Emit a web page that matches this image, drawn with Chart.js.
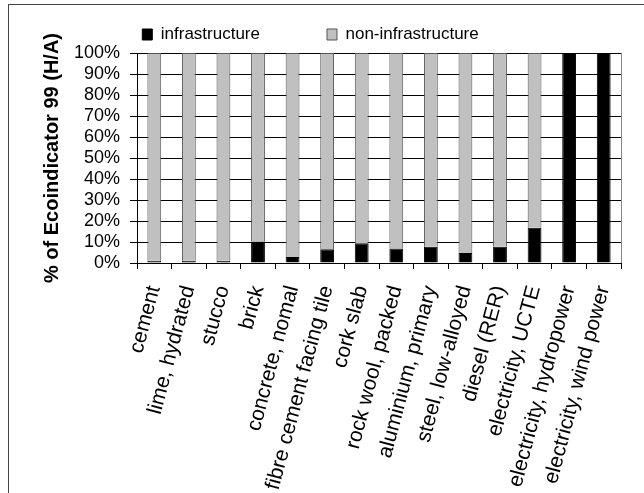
<!DOCTYPE html>
<html>
<head>
<meta charset="utf-8">
<script src="https://cdn.jsdelivr.net/npm/chart.js@4"></script>
<style>
  html, body { margin: 0; padding: 0; background: #fff; }
  #wrap { position: relative; width: 644px; height: 493px; overflow: hidden; }
  #frame { position: absolute; left: 8px; top: 4px; width: 700px; height: 600px; border: 1px solid #444; box-sizing: border-box; pointer-events: none; }
  canvas { position: absolute; left: 0; top: 0; }
</style>
</head>
<body>
<div id="wrap">
  <canvas id="c" width="644" height="493"></canvas>
  <div id="frame"></div>
</div>
<script>
const categories = ['cement', 'lime, hydrated', 'stucco', 'brick', 'concrete, nomal', 'fibre cement facing tile', 'cork slab', 'rock wool, packed', 'aluminium, primary', 'steel, low-alloyed', 'diesel (RER)', 'electricity, UCTE', 'electricity, hydropower', 'electricity, wind power'];
const infrastructure = [1.1, 1.1, 1.1, 10.2, 2.9, 6.6, 9.4, 6.9, 7.7, 4.8, 7.7, 16.8, 100, 100];
const nonInfrastructure = [98.9, 98.9, 98.9, 89.8, 97.1, 93.4, 90.6, 93.1, 92.3, 95.2, 92.3, 83.2, 0, 0];
const yTickValues = [0, 10, 20, 30, 40, 50, 60, 70, 80, 90, 100];
const seriesNames = ['infrastructure', 'non-infrastructure'];
const yTitle = '% of Ecoindicator 99 (H/A)';

const FONT = "'Liberation Sans', Arial, sans-serif";

const rightBorder = {
  id: 'rightBorder',
  afterDraw(chart) {
    const a = chart.chartArea, ctx = chart.ctx;
    ctx.save();
    ctx.strokeStyle = '#888';
    ctx.lineWidth = 1;
    ctx.beginPath();
    ctx.moveTo(Math.round(a.right) + 0.5, a.top);
    ctx.lineTo(Math.round(a.right) + 0.5, a.bottom);
    ctx.stroke();
    ctx.restore();
  }
};

new Chart(document.getElementById('c'), {
  type: 'bar',
  data: {
    labels: categories,
    datasets: [
      { label: seriesNames[0], data: infrastructure, backgroundColor: '#000000', borderColor: '#000000', borderWidth: 1 },
      { label: seriesNames[1], data: nonInfrastructure, backgroundColor: '#c0c0c0', borderColor: '#555555', borderWidth: 1 }
    ]
  },
  options: {
    responsive: false,
    animation: false,
    devicePixelRatio: 1,
    categoryPercentage: 1,
    barPercentage: 0.4,
    layout: { padding: { left: 0, right: 23, top: -41, bottom: 0 } },
    plugins: {
      legend: {
        position: 'top',
        maxHeight: 97,
        labels: {
          color: '#000',
          font: { family: FONT, size: 17 },
          boxWidth: 10,
          boxHeight: 11,
          padding: 67
        }
      },
      tooltip: { enabled: false }
    },
    scales: {
      x: {
        stacked: true,
        offset: true,
        grid: { display: true, drawOnChartArea: false, drawTicks: true, tickLength: 6, color: '#000', offset: true },
        border: { color: '#000', width: 1 },
        ticks: {
          color: '#000',
          font: { family: FONT, size: 21 },
          autoSkip: false,
          minRotation: 75,
          maxRotation: 75,
          padding: 14
        },
        afterFit(scale) { scale.height = 230; }
      },
      y: {
        stacked: true,
        min: 0,
        max: 100,
        afterBuildTicks(scale) { scale.ticks = yTickValues.map(v => ({ value: v })); },
        grid: { color: '#000', lineWidth: 1, tickLength: 7, drawTicks: true },
        border: { color: '#000', width: 1 },
        ticks: {
          color: '#000',
          font: { family: FONT, size: 18 },
          padding: 10,
          stepSize: 10,
          autoSkip: false,
          callback: v => v + '%'
        },
        title: {
          display: true,
          text: yTitle,
          color: '#000',
          font: { family: FONT, size: 20, weight: 'bold' },
          padding: { top: 40, bottom: 0 }
        },
        afterFit(scale) { scale.width = 137; }
      }
    }
  },
  plugins: [rightBorder]
});
</script>
</body>
</html>
